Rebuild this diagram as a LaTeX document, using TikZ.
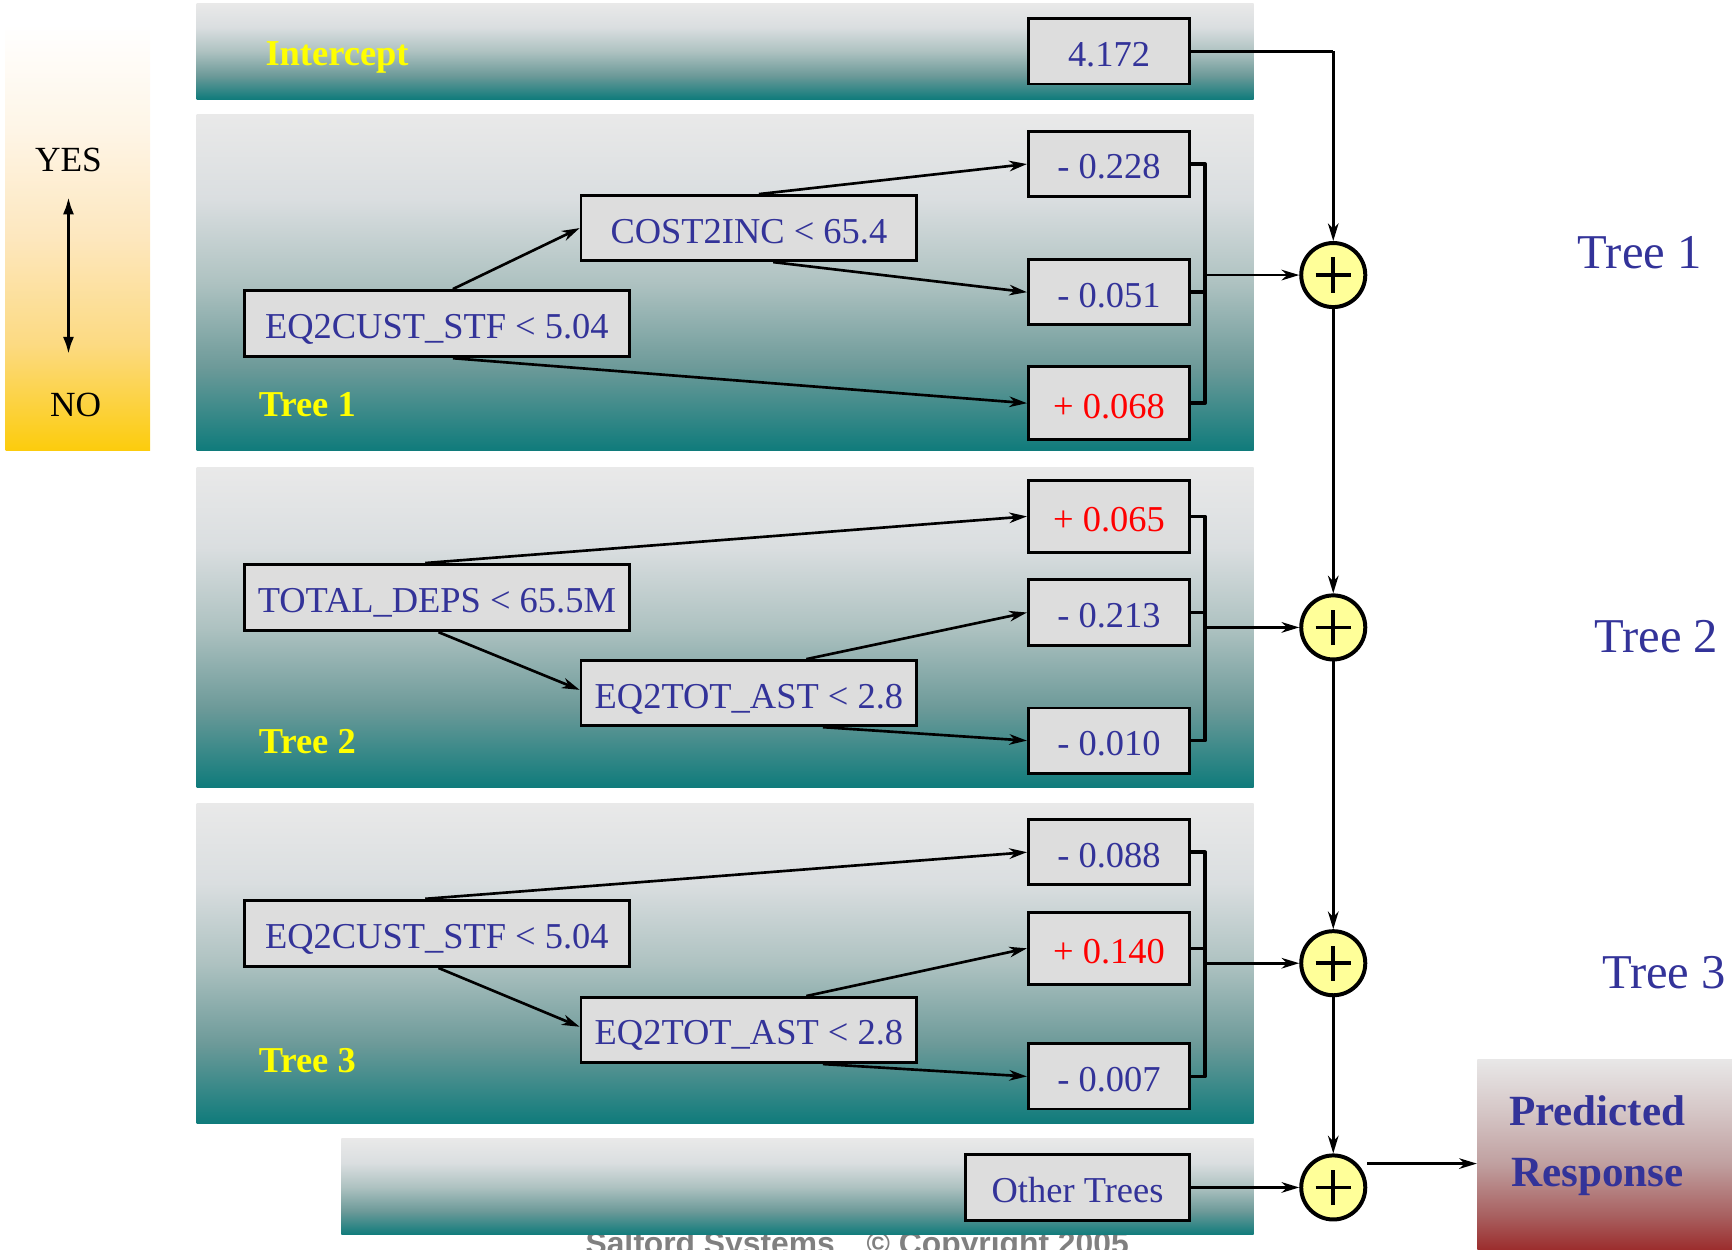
\documentclass[tikz,border=0pt]{standalone}
\usepackage{fontspec}
\setmainfont{Liberation Serif}
\newfontfamily\cpsans{Liberation Sans}
\usetikzlibrary{arrows.meta}

\definecolor{txtblue}{HTML}{333399}
\definecolor{boxgray}{HTML}{DDDDDD}
\definecolor{plusyellow}{HTML}{FFFF99}
\definecolor{labyellow}{HTML}{FFFF00}
\definecolor{cpgray}{HTML}{808080}
\definecolor{tealA}{HTML}{0F7B7B}
\definecolor{tealB}{HTML}{6D9A99}
\definecolor{tealC}{HTML}{AEC2C1}
\definecolor{tealD}{HTML}{DADEE0}
\definecolor{tealE}{HTML}{E9E9E9}
\definecolor{yelA}{HTML}{FCCC0C}
\definecolor{yelB}{HTML}{FCDA82}
\definecolor{yelC}{HTML}{FDE7BE}
\definecolor{yelD}{HTML}{FEF5E6}
\definecolor{yelE}{HTML}{FFFFFF}
\definecolor{redA}{HTML}{951212}
\definecolor{redB}{HTML}{A86060}
\definecolor{redC}{HTML}{C0A0A0}
\definecolor{redD}{HTML}{D5C6C6}
\definecolor{redE}{HTML}{E8E7E7}

\pgfdeclareverticalshading{tealgrad}{100bp}{color(0bp)=(tealA); color(25bp)=(tealA); color(37.5bp)=(tealB); color(50bp)=(tealC); color(62.5bp)=(tealD); color(75bp)=(tealE); color(100bp)=(tealE)}
\pgfdeclareverticalshading{yelgrad}{100bp}{color(0bp)=(yelA); color(25bp)=(yelA); color(37.5bp)=(yelB); color(50bp)=(yelC); color(62.5bp)=(yelD); color(75bp)=(yelE); color(100bp)=(yelE)}
\pgfdeclareverticalshading{predgrad}{100bp}{color(0bp)=(redA); color(25bp)=(redA); color(37.5bp)=(redB); color(50bp)=(redC); color(62.5bp)=(redD); color(75bp)=(redE); color(100bp)=(redE)}

\begin{document}
\begin{tikzpicture}[x=0.5pt,y=-0.5pt,
 conn/.style={line width=1.2pt, -{Stealth[length=8pt,width=4.8pt,inset=2.5pt]}},
 brk/.style={line width=1.6pt, line join=round},
 bx/.style={draw=black, line width=1.3pt, fill=boxgray, text=txtblue, font=\fontsize{16.5}{18}\selectfont, inner sep=0pt, text height=13.5pt, text depth=0pt, minimum height=29.5pt},
 leaf/.style={bx, minimum width=73pt},
 posleaf/.style={leaf, text=red},
 split/.style={bx, minimum width=152pt},
 rootbox/.style={bx, minimum width=174.5pt, minimum height=30pt},
 plus/.style={circle, draw=black, line width=1.8pt, fill=plusyellow, minimum size=29pt, inner sep=0pt},
 ylab/.style={anchor=base west, text=labyellow, font=\fontsize{16.5}{18}\selectfont\bfseries, inner sep=0pt},
 rlab/.style={anchor=base west, text=txtblue, font=\fontsize{22}{24}\selectfont, inner sep=0pt},
 yn/.style={anchor=base, text=black, font=\fontsize{16}{18}\selectfont, inner sep=0pt},
 predtxt/.style={anchor=base, text=txtblue, font=\fontsize{19.5}{22}\selectfont\bfseries, inner sep=0pt},
]
\useasboundingbox (0,0) rectangle (1568,1131);
\clip (0,0) rectangle (1568,1131);

% left YES/NO panel
\shade[shading=yelgrad] (5,22) rectangle (136,408);
\node[yn] (yes) at (62,155.5) {YES};
\node[yn] (no) at (68.5,377.5) {NO};
\coordinate (ya) at (62,178);
\coordinate (yb) at (62,321);
\draw[line width=1.5pt, {Latex[length=8pt,width=5pt]}-{Latex[length=8pt,width=5pt]}] (ya) -- (yb);

% copyright (partly hidden)
\node[anchor=base, text=cpgray, font=\cpsans\bfseries\fontsize{14.4}{16}\selectfont, inner sep=0pt] (copy) at (776,1136) {Salford Systems\quad © Copyright 2005};

% panels
\shade[shading=tealgrad] (178,3) rectangle (1135,90);
\shade[shading=tealgrad] (178,104) rectangle (1135,408);
\shade[shading=tealgrad] (178,423) rectangle (1135,713);
\shade[shading=tealgrad] (178,727) rectangle (1135,1017);
\shade[shading=tealgrad] (309,1031) rectangle (1135,1118);
\node[shade, shading=predgrad, anchor=north west, minimum width=125pt, minimum height=94pt, inner sep=0pt] (pred) at (1337,959) {};

% panel labels
\node[ylab] (lint) at (240,59) {Intercept};
\node[ylab] (lt1) at (234,377) {Tree 1};
\node[ylab] (lt2) at (234,682) {Tree 2};
\node[ylab] (lt3) at (234,971) {Tree 3};

% intercept
\node[leaf] (b0) at (1004,46.5) {4.172};

% tree 1
\node[rootbox] (r1) at (395.5,293) {EQ2CUST\_STF < 5.04};
\node[split] (s1) at (678,206.5) {COST2INC < 65.4};
\node[leaf] (l11) at (1004,148.5) {- 0.228};
\node[leaf] (l12) at (1004,264.5) {- 0.051};
\node[posleaf, minimum height=33pt] (l13) at (1004,365) {+ 0.068};

% tree 2
\node[rootbox] (r2) at (395.5,541) {TOTAL\_DEPS < 65.5M};
\node[split] (s2) at (678,627.5) {EQ2TOT\_AST < 2.8};
\node[posleaf, minimum height=32.5pt] (l21) at (1004,467.5) {+ 0.065};
\node[leaf] (l22) at (1004,554.5) {- 0.213};
\node[leaf] (l23) at (1004,670.5) {- 0.010};

% tree 3
\node[rootbox] (r3) at (395.5,845) {EQ2CUST\_STF < 5.04};
\node[split] (s3) at (678,932.5) {EQ2TOT\_AST < 2.8};
\node[leaf] (l31) at (1004,771.5) {- 0.088};
\node[posleaf, minimum height=32.5pt] (l32) at (1004,858.5) {+ 0.140};
\node[leaf] (l33) at (1004,974.5) {- 0.007};

% other trees
\node[bx, minimum width=101.5pt, minimum height=30pt] (oth) at (975.5,1075) {Other Trees};

% sum nodes
\node[plus] (p1) at (1207,249) {};
\node[plus] (p2) at (1207,568) {};
\node[plus] (p3) at (1207,872) {};
\node[plus] (p4) at (1207,1075) {};
\foreach \p in {p1,p2,p3,p4}{
  \draw[line width=1.7pt] ([xshift=-8pt]\p.center) -- ([xshift=8pt]\p.center)
                          ([yshift=-8pt]\p.center) -- ([yshift=8pt]\p.center);
}

% right labels
\node[rlab] (rt1) at (1428,243) {Tree 1};
\node[rlab] (rt2) at (1443,591) {Tree 2};
\node[rlab] (rt3) at (1450,895) {Tree 3};

% predicted response text
\node[predtxt] (pra) at (1446,1019) {Predicted};
\node[predtxt] (prb) at (1446,1074.5) {Response};

% tree 1 connectors
\draw[conn] ([xshift=7.25pt]r1.north) -- (s1.west);
\draw[conn] ([xshift=4.5pt]s1.north) -- (l11.west);
\draw[conn] ([xshift=11pt]s1.south) -- (l12.west);
\draw[conn] ([xshift=7.25pt]r1.south) -- (l13.west);

% tree 2 connectors
\draw[conn] ([xshift=-5.25pt]r2.north) -- (l21.west);
\draw[conn] ([xshift=0.75pt]r2.south) -- ([yshift=1.5pt]s2.west);
\draw[conn] ([xshift=26pt]s2.north) -- (l22.west);
\draw[conn] ([xshift=33.5pt]s2.south) -- (l23.west);

% tree 3 connectors
\draw[conn] ([xshift=-5.25pt]r3.north) -- (l31.west);
\draw[conn] ([xshift=0.75pt]r3.south) -- ([yshift=1.5pt]s3.west);
\draw[conn] ([xshift=26pt]s3.north) -- (l32.west);
\draw[conn] ([xshift=33.5pt]s3.south) -- (l33.west);

% brackets
\coordinate (k1) at (1091,249);
\coordinate (k2) at (1091,568);
\coordinate (k3) at (1091,872);
\draw[brk] (l11.east) -- (l11.east -| k1) -- (l13.east -| k1) -- (l13.east);
\draw[brk] (l12.east) -- (l12.east -| k1);
\draw[conn] (k1) -- (p1);
\draw[brk] (l21.east) -- (l21.east -| k2) -- (l23.east -| k2) -- (l23.east);
\draw[brk] (l22.east) -- (l22.east -| k2);
\draw[conn] (k2) -- (p2);
\draw[brk] (l31.east) -- (l31.east -| k3) -- (l33.east -| k3) -- (l33.east);
\draw[brk] (l32.east) -- (l32.east -| k3);
\draw[conn] (k3) -- (p3);

% intercept to sum
\draw[line width=1.6pt] (b0.east) -- (b0.east -| p1.north);
\draw[conn] (b0.east -| p1.north) -- (p1.north);

% chain
\draw[conn] (p1.south) -- (p2.north);
\draw[conn] (p2.south) -- (p3.north);
\draw[conn] (p3.south) -- (p4.north);
\draw[conn] (oth.east) -- (p4.west);
\draw[conn] (pred.west -| p4.east) -- (pred.west);
\end{tikzpicture}
\end{document}
